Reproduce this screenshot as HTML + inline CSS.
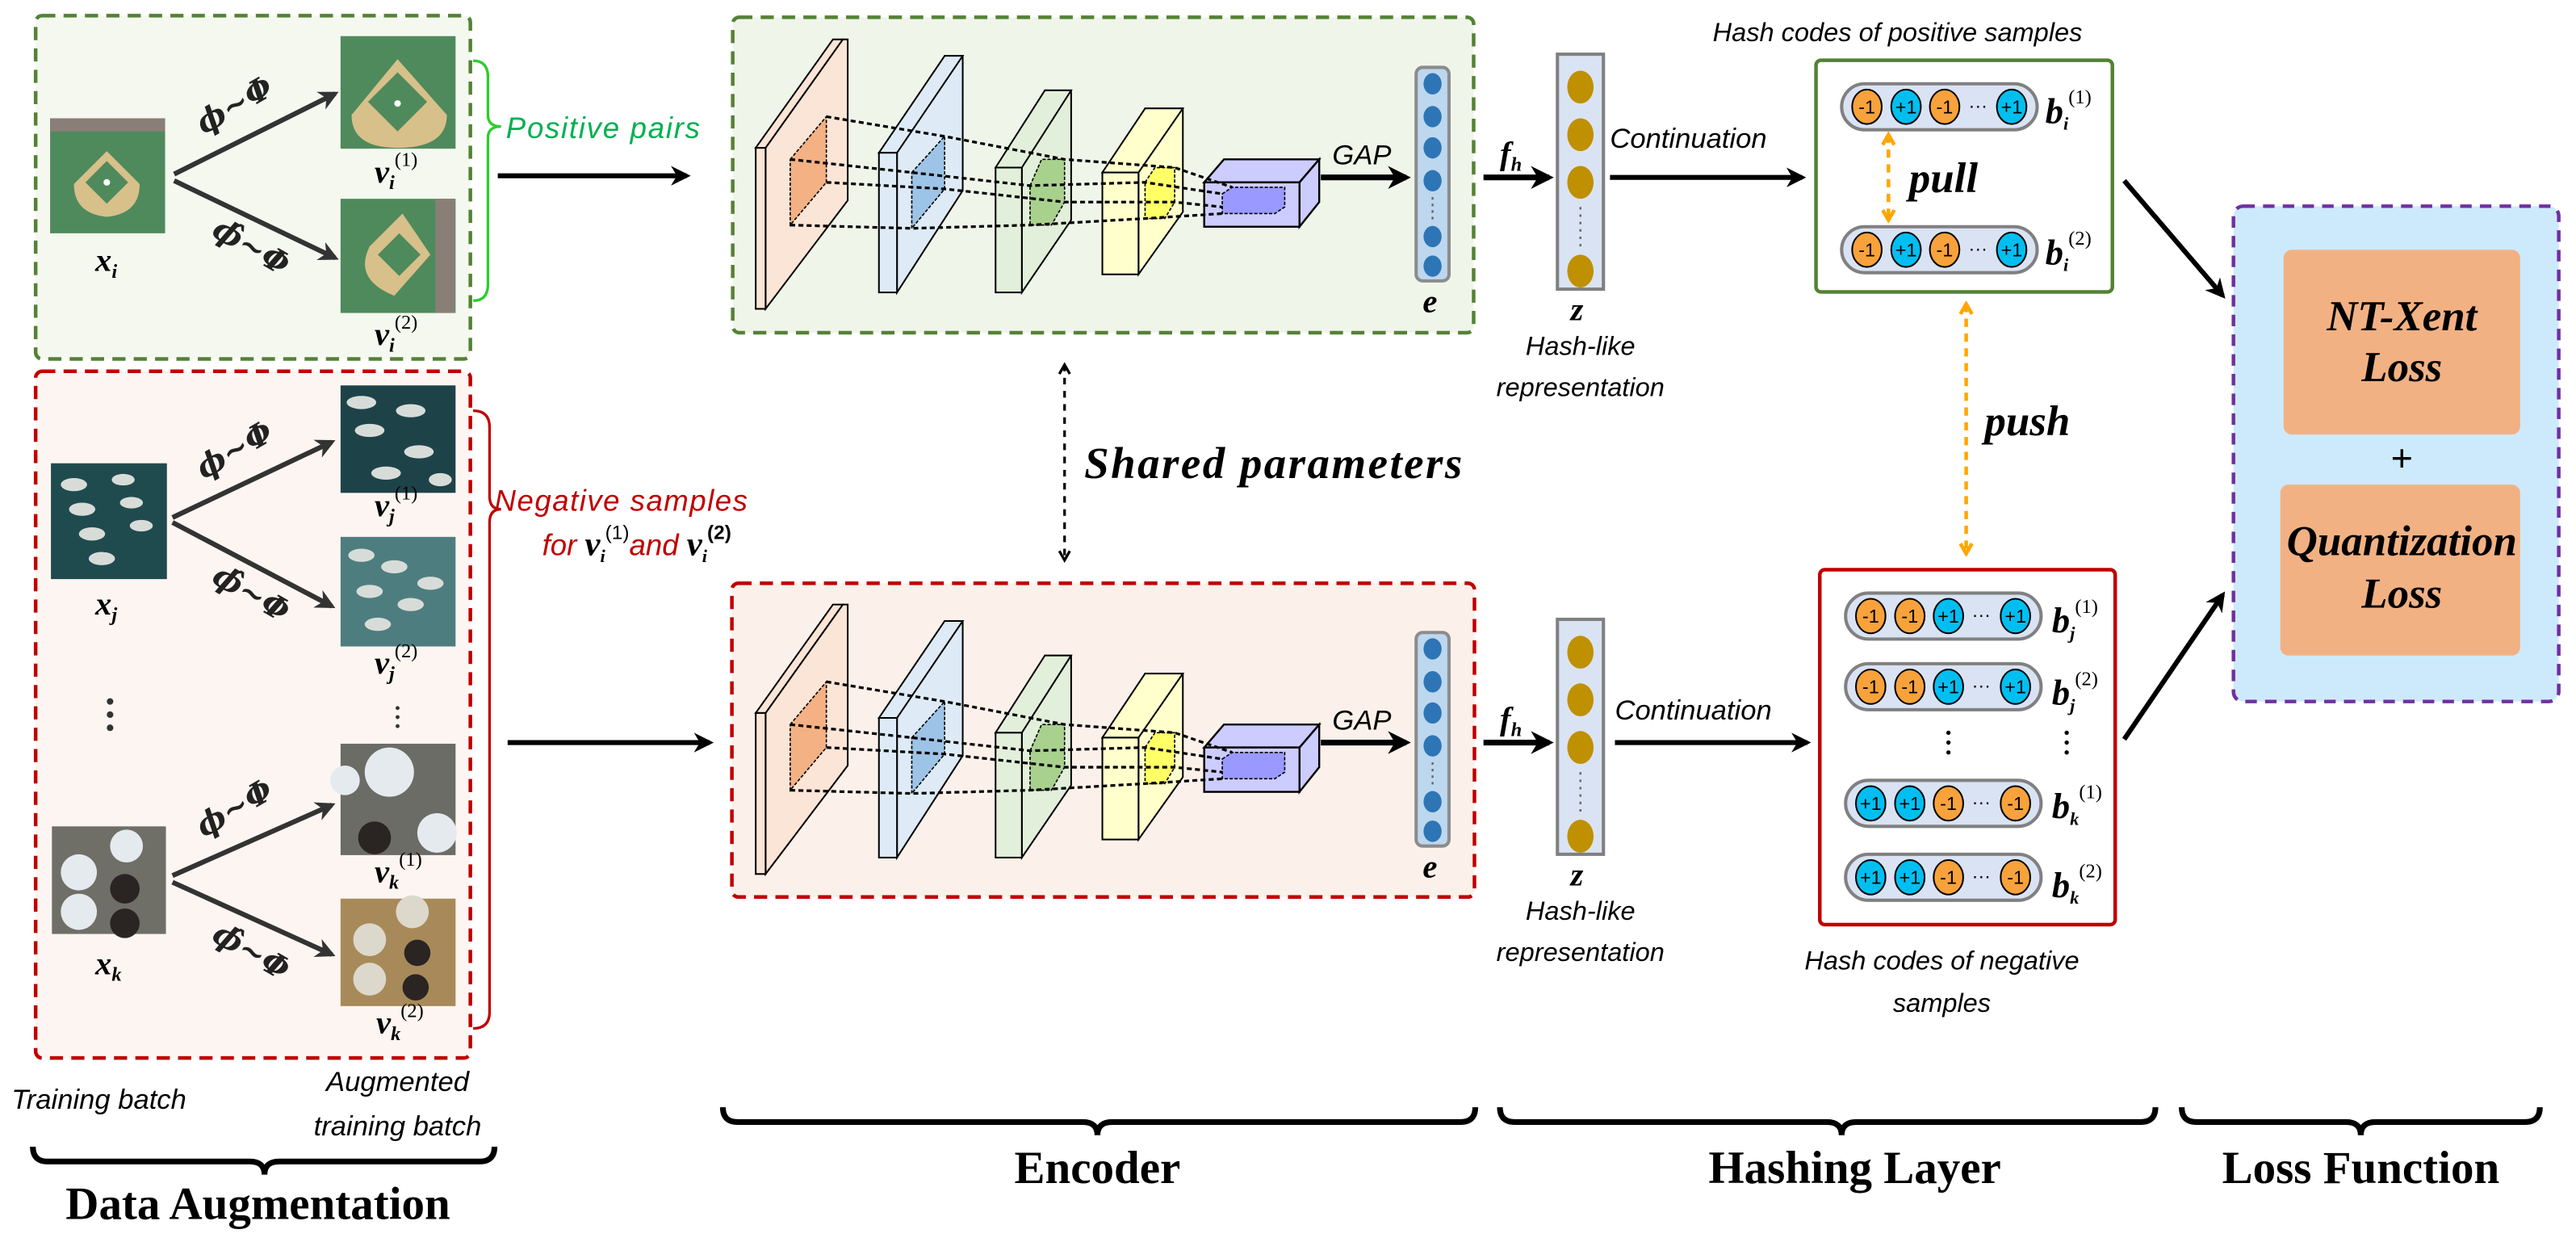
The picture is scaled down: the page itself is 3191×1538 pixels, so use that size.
<!DOCTYPE html>
<html><head><meta charset="utf-8"><style>
html,body{margin:0;padding:0;background:#fff}
svg{display:block}
.it{font-family:"Liberation Sans",sans-serif;font-style:italic}
.m{font-family:"Liberation Serif",serif;font-style:italic;font-weight:bold}
.ph{font-family:"DejaVu Serif",serif;font-style:italic;font-weight:bold}
.b{font-family:"Liberation Serif",serif;font-weight:bold}
</style></head><body>
<svg width="3191" height="1538" viewBox="0 0 1568 756" preserveAspectRatio="none" xmlns="http://www.w3.org/2000/svg">
<defs>
<marker id="ah" viewBox="0 0 10 10" refX="8" refY="5" markerWidth="4" markerHeight="4" orient="auto-start-reverse"><path d="M0,0 L10,5 L0,10 L3,5 z" fill="#000"/></marker>
<marker id="ahg" viewBox="0 0 10 10" refX="8" refY="5" markerWidth="4" markerHeight="4" orient="auto-start-reverse"><path d="M0,0 L10,5 L0,10 L3,5 z" fill="#333"/></marker>
<marker id="ao" viewBox="0 0 10 10" refX="8" refY="5" markerWidth="4" markerHeight="4" orient="auto-start-reverse"><path d="M1,1 L8,5 L1,9" fill="none" stroke="#ffa500" stroke-width="2.5"/></marker>
<marker id="ad" viewBox="0 0 10 10" refX="8" refY="5" markerWidth="5" markerHeight="5" orient="auto-start-reverse"><path d="M1,1 L8,5 L1,9" fill="none" stroke="#000" stroke-width="2"/></marker>
<g id="enc">
 <polygon points="466,90 513,24 516,24 516,122 466,188" fill="#fbe5d6" stroke="#000" stroke-width="1"/>
 <polygon points="460,90 507,24 513,24 466,90" fill="#fbe5d6" stroke="#000" stroke-width="1"/>
 <rect x="460" y="90" width="6" height="98" fill="#fbe5d6" stroke="#000" stroke-width="1"/>
 <polygon points="481,97 503,71 503,111 481,137" fill="#f4b183" stroke="#000" stroke-width="0.8" stroke-dasharray="2,1"/>
 <polygon points="546,93 575,34 586,34 586,116 546,178" fill="#deebf7" stroke="#000" stroke-width="1"/>
 <polygon points="535,93 575,34 586,34 546,93" fill="#deebf7" stroke="#000" stroke-width="1"/>
 <rect x="535" y="93" width="11" height="85" fill="#deebf7" stroke="#000" stroke-width="1"/>
 <polygon points="555,105 575,83 575,115 555,139" fill="#9dc3e6" stroke="#000" stroke-width="0.8" stroke-dasharray="2,1"/>
 <polygon points="622,102 636,55 652,55 652,134 622,178" fill="#e2efda" stroke="#000" stroke-width="1"/>
 <polygon points="606,102 636,55 652,55 622,102" fill="#e2efda" stroke="#000" stroke-width="1"/>
 <rect x="606" y="102" width="16" height="76" fill="#e2efda" stroke="#000" stroke-width="1"/>
 <polygon points="627,113 634,97 648,97 648,123 640,137 627,137" fill="#a9d18e" stroke="#000" stroke-width="0.8" stroke-dasharray="2,1"/>
 <polygon points="693,105 697,66 720,66 720,129 693,167" fill="#ffffcc" stroke="#000" stroke-width="1"/>
 <polygon points="671,105 697,66 720,66 693,105" fill="#ffffcc" stroke="#000" stroke-width="1"/>
 <rect x="671" y="105" width="22" height="62" fill="#ffffcc" stroke="#000" stroke-width="1"/>
 <polygon points="697,111 703,102 715,102 715,123 709,133 697,133" fill="#ffff66" stroke="#000" stroke-width="0.8" stroke-dasharray="2,1"/>
 <polygon points="733,111 745,97 803,97 791,111" fill="#ccccff" stroke="#000" stroke-width="1.2"/>
 <polygon points="791,111 803,97 803,123 791,138" fill="#ccccff" stroke="#000" stroke-width="1.2"/>
 <rect x="733" y="111" width="58" height="27" fill="#ccccff" stroke="#000" stroke-width="1.2"/>
 <polygon points="744,118 750,114 782,114 782,126 776,130 744,130" fill="#9999ff" stroke="#000" stroke-width="0.8" stroke-dasharray="2,1"/>
 <g stroke="#000" stroke-width="1.6" stroke-dasharray="3,2" fill="none">
  <polyline points="503,71 575,83 648,97 715,102 750,114"/>
  <polyline points="481,97 555,105 627,113 697,111 744,118"/>
  <polyline points="503,111 575,115 648,123 715,123 744,126"/>
  <polyline points="481,137 555,139 627,137 697,133 744,130"/>
 </g>
 <rect x="862" y="41" width="20" height="130" rx="4" fill="#bdd7ee" stroke="#8c8c8c" stroke-width="2"/>
 <g fill="#2e75b6">
  <ellipse cx="872" cy="51" rx="5.5" ry="6.5"/><ellipse cx="872" cy="71" rx="5.5" ry="6.5"/>
  <ellipse cx="872" cy="90" rx="5.5" ry="6.5"/><ellipse cx="872" cy="110" rx="5.5" ry="6.5"/>
  <ellipse cx="872" cy="144" rx="5.5" ry="6.5"/><ellipse cx="872" cy="162" rx="5.5" ry="6.5"/>
 </g>
 <line x1="872" y1="120" x2="872" y2="134" stroke="#666" stroke-width="1.2" stroke-dasharray="1.5,2.5"/>
 <rect x="948" y="33" width="28" height="143" fill="#dae3f3" stroke="#808080" stroke-width="2"/>
 <g fill="#bf9000">
  <ellipse cx="962" cy="53" rx="8" ry="10"/><ellipse cx="962" cy="82" rx="8" ry="10"/>
  <ellipse cx="962" cy="111" rx="8" ry="10"/><ellipse cx="962" cy="165" rx="8" ry="10"/>
 </g>
 <line x1="962" y1="126" x2="962" y2="150" stroke="#666" stroke-width="1.2" stroke-dasharray="1.5,3"/>
 <line x1="804" y1="108" x2="856" y2="108" stroke="#000" stroke-width="3.5" marker-end="url(#ah)"/>
 <line x1="903" y1="108" x2="943" y2="108" stroke="#000" stroke-width="3.5" marker-end="url(#ah)"/>
</g>
</defs>

<rect x="21.7" y="9.5" width="264.6" height="209" rx="4" fill="#f4f8ef" stroke="#548235" stroke-width="2.2" stroke-dasharray="8,5"/>
<rect x="21.7" y="226" width="264.6" height="418" rx="4" fill="#fdf5f1" stroke="#c00000" stroke-width="2.2" stroke-dasharray="8,5"/>

<g>
 <rect x="30.5" y="72" width="70" height="70" fill="#4f8a5c"/>
 <rect x="30.5" y="72" width="70" height="8" fill="#8a7f78"/>
 <path d="M45,112 L65,92 L85,112 Q85,130 65,132 Q45,130 45,112z" fill="#d7c08a"/>
 <polygon points="65,98 78,111 65,124 52,111" fill="#4f8a5c"/>
 <circle cx="65" cy="111" r="2" fill="#fff"/>
 <rect x="207.3" y="22" width="70" height="68.5" fill="#4f8a5c"/>
 <path d="M214,70 L242,36 L272,70 Q272,90 242,90 Q214,90 214,70z" fill="#d7c08a"/>
 <polygon points="242,44 260,62 242,80 224,62" fill="#4f8a5c"/>
 <circle cx="242" cy="63" r="2" fill="#fff"/>
 <rect x="207.3" y="121" width="70" height="69.5" fill="#4f8a5c"/>
 <rect x="265" y="121" width="12" height="69.5" fill="#8a7f78"/>
 <path d="M225,150 L245,130 L262,155 L240,180 Q215,170 225,150z" fill="#d7c08a"/>
 <polygon points="243,142 256,155 243,168 230,155" fill="#4f8a5c"/>
</g>
<g>
 <rect x="31" y="282" width="70.6" height="70.5" fill="#1f4b4f"/>
 <g fill="#d8dcd8"><ellipse cx="45" cy="295" rx="8" ry="4"/><ellipse cx="50" cy="310" rx="8" ry="4"/><ellipse cx="56" cy="325" rx="8" ry="4"/><ellipse cx="62" cy="340" rx="8" ry="4"/><ellipse cx="75" cy="292" rx="7" ry="3.5"/><ellipse cx="80" cy="306" rx="7" ry="3.5"/><ellipse cx="86" cy="320" rx="7" ry="3.5"/></g>
 <rect x="207.3" y="234.6" width="70" height="65.4" fill="#1d4349"/>
 <g fill="#d8dcd8"><ellipse cx="220" cy="245" rx="9" ry="4"/><ellipse cx="225" cy="262" rx="9" ry="4"/><ellipse cx="250" cy="250" rx="9" ry="4"/><ellipse cx="255" cy="275" rx="9" ry="4"/><ellipse cx="235" cy="288" rx="9" ry="4"/><ellipse cx="268" cy="292" rx="7" ry="4"/></g>
 <rect x="207.3" y="326.8" width="70" height="66.7" fill="#4e7d80"/>
 <g fill="#d8dcd8"><ellipse cx="220" cy="338" rx="8" ry="4"/><ellipse cx="240" cy="345" rx="8" ry="4"/><ellipse cx="225" cy="360" rx="8" ry="4"/><ellipse cx="250" cy="368" rx="8" ry="4"/><ellipse cx="230" cy="380" rx="8" ry="4"/><ellipse cx="262" cy="355" rx="8" ry="4"/></g>
</g>
<g>
 <rect x="31.6" y="503" width="69.4" height="65.5" fill="#6f6f68"/>
 <g fill="#e4eaee"><circle cx="77" cy="515" r="10"/><circle cx="48" cy="531" r="11"/><circle cx="48" cy="555" r="11"/></g>
 <g fill="#2a2522"><circle cx="76" cy="541" r="9"/><circle cx="76" cy="562" r="9"/></g>
 <rect x="207.3" y="452.7" width="70" height="67.8" fill="#6c6c66"/>
 <g fill="#e4eaee"><circle cx="237" cy="470" r="15"/><circle cx="266" cy="507" r="12"/><circle cx="210" cy="475" r="9"/></g>
 <circle cx="228" cy="510" r="10" fill="#2a2522"/>
 <rect x="207.3" y="547" width="70" height="65.4" fill="#a88a5a"/>
 <g fill="#ddd8cc"><circle cx="251" cy="555" r="10"/><circle cx="225" cy="572" r="10"/><circle cx="225" cy="596" r="10"/></g>
 <g fill="#2a2522"><circle cx="254" cy="580" r="8"/><circle cx="253" cy="601" r="8"/></g>
</g>

<g stroke="#333" stroke-width="3" marker-end="url(#ahg)">
 <line x1="106" y1="106" x2="204" y2="57"/>
 <line x1="106" y1="110" x2="204" y2="157"/>
 <line x1="105" y1="315" x2="202" y2="269"/>
 <line x1="105" y1="318" x2="202" y2="369"/>
 <line x1="105" y1="533" x2="202" y2="490"/>
 <line x1="105" y1="537" x2="202" y2="581"/>
</g>
<g class="ph" font-size="19" fill="#222">
 <text transform="translate(124,82) rotate(-30)">ϕ~Φ</text>
 <text transform="translate(128,143) rotate(30)">ϕ̂~Φ</text>
 <text transform="translate(124,292) rotate(-30)">ϕ~Φ</text>
 <text transform="translate(128,354) rotate(30)">ϕ̂~Φ</text>
 <text transform="translate(124,510) rotate(-30)">ϕ~Φ</text>
 <text transform="translate(128,572) rotate(30)">ϕ̂~Φ</text>
</g>
<g class="m" font-size="20" fill="#000">
 <text x="58" y="165">x<tspan font-size="12" dy="4">i</tspan></text>
 <text x="58" y="374">x<tspan font-size="12" dy="4">j</tspan></text>
 <text x="58" y="593">x<tspan font-size="12" dy="4">k</tspan></text>
 <text x="228" y="111">v<tspan font-size="12" dy="4">i</tspan><tspan font-size="12" dy="-14" font-weight="normal" font-style="normal">(1)</tspan></text>
 <text x="228" y="210">v<tspan font-size="12" dy="4">i</tspan><tspan font-size="12" dy="-14" font-weight="normal" font-style="normal">(2)</tspan></text>
 <text x="228" y="314">v<tspan font-size="12" dy="4">j</tspan><tspan font-size="12" dy="-14" font-weight="normal" font-style="normal">(1)</tspan></text>
 <text x="228" y="410">v<tspan font-size="12" dy="4">j</tspan><tspan font-size="12" dy="-14" font-weight="normal" font-style="normal">(2)</tspan></text>
 <text x="228" y="537">v<tspan font-size="12" dy="4">k</tspan><tspan font-size="12" dy="-14" font-weight="normal" font-style="normal">(1)</tspan></text>
 <text x="229" y="629">v<tspan font-size="12" dy="4">k</tspan><tspan font-size="12" dy="-14" font-weight="normal" font-style="normal">(2)</tspan></text>
</g>
<g fill="#333"><circle cx="67" cy="427" r="2"/><circle cx="67" cy="435" r="2"/><circle cx="67" cy="443" r="2"/></g>
<g fill="#333"><circle cx="242" cy="431" r="1.2"/><circle cx="242" cy="436.5" r="1.2"/><circle cx="242" cy="442" r="1.2"/></g>

<path d="M288,37 Q297,37 297,47 L297,70 Q297,77 305,77 Q297,77 297,84 L297,173 Q297,183 288,183" fill="none" stroke="#2ecc2e" stroke-width="1.6"/>
<text class="it" x="308" y="84" font-size="18" fill="#00b050" textLength="118">Positive pairs</text>
<path d="M288,250 Q298,250 298,260 L298,302 Q298,310 305,310 Q298,310 298,318 L298,616 Q298,626 288,626" fill="none" stroke="#c00000" stroke-width="1.6"/>
<text class="it" x="301" y="311" font-size="18" fill="#c00000" textLength="154">Negative samples</text>
<text class="it" x="330" y="338" font-size="18" fill="#c00000">for <tspan class="m" fill="#000" font-size="21">v</tspan><tspan class="m" fill="#000" font-size="11" dy="4">i</tspan><tspan font-style="normal" fill="#000" font-size="12" dy="-14">(1)</tspan><tspan dy="10">and </tspan><tspan class="m" fill="#000" font-size="21">v</tspan><tspan class="m" fill="#000" font-size="11" dy="4">i</tspan><tspan font-style="normal" font-weight="bold" fill="#000" font-size="12" dy="-14">(2)</tspan></text>

<line x1="303" y1="107" x2="418" y2="107" stroke="#000" stroke-width="3" marker-end="url(#ah)"/>
<line x1="309" y1="452" x2="432" y2="452" stroke="#000" stroke-width="3" marker-end="url(#ah)"/>

<rect x="446" y="10.5" width="451" height="192" rx="4" fill="#f0f5ea" stroke="#548235" stroke-width="2.2" stroke-dasharray="8,5"/>
<rect x="445.5" y="355" width="452" height="191" rx="4" fill="#fcf1ea" stroke="#c00000" stroke-width="2.2" stroke-dasharray="8,5"/>
<use href="#enc"/>
<use href="#enc" transform="translate(0,344)"/>
<g class="it" font-size="17">
 <text x="811" y="100">GAP</text><text x="811" y="444">GAP</text>
 <text x="980" y="90">Continuation</text><text x="983" y="438">Continuation</text>
</g>
<g class="m" font-size="20">
 <text x="913" y="100">f<tspan font-size="12" dy="4">h</tspan></text>
 <text x="913" y="444">f<tspan font-size="12" dy="4">h</tspan></text>
 <text x="866" y="190">e</text><text x="866" y="534">e</text>
 <text x="956" y="195">z</text><text x="956" y="539">z</text>
</g>
<g class="it" font-size="16" text-anchor="middle">
 <text x="962" y="216">Hash-like</text><text x="962" y="241">representation</text>
 <text x="962" y="560">Hash-like</text><text x="962" y="585">representation</text>
</g>
<line x1="980" y1="108" x2="1097" y2="108" stroke="#000" stroke-width="3" marker-end="url(#ah)"/>
<line x1="983" y1="452" x2="1100" y2="452" stroke="#000" stroke-width="3" marker-end="url(#ah)"/>

<line x1="648" y1="222" x2="648" y2="341" stroke="#000" stroke-width="1.6" stroke-dasharray="4,4" marker-start="url(#ad)" marker-end="url(#ad)"/>
<text class="m" x="660" y="291" font-size="27" textLength="230">Shared parameters</text>

<text class="it" x="1155" y="25" font-size="16" text-anchor="middle">Hash codes of positive samples</text>
<rect x="1105.4" y="36.7" width="180.4" height="141" rx="3" fill="#fff" stroke="#548235" stroke-width="2.2"/>
<rect x="1107.7" y="346.8" width="179.8" height="216" rx="3" fill="#fff" stroke="#c00000" stroke-width="2.2"/>
<g font-family="Liberation Sans,sans-serif" font-size="11.5" text-anchor="middle">
 <rect x="1121" y="51" width="119" height="28" rx="14" fill="#dae3f3" stroke="#808080" stroke-width="2"/>
 <ellipse cx="1136.4" cy="65" rx="9" ry="10.5" fill="#f7a23b" stroke="#000"/><text x="1136.4" y="69">-1</text>
 <ellipse cx="1160.2" cy="65" rx="9" ry="10.5" fill="#00bff0" stroke="#000"/><text x="1160.2" y="69">+1</text>
 <ellipse cx="1183.7" cy="65" rx="9" ry="10.5" fill="#f7a23b" stroke="#000"/><text x="1183.7" y="69">-1</text>
 <text x="1204" y="68">···</text>
 <ellipse cx="1224.5" cy="65" rx="9" ry="10.5" fill="#00bff0" stroke="#000"/><text x="1224.5" y="69">+1</text>
 <rect x="1121" y="138" width="119" height="28" rx="14" fill="#dae3f3" stroke="#808080" stroke-width="2"/>
 <ellipse cx="1136.4" cy="152" rx="9" ry="10.5" fill="#f7a23b" stroke="#000"/><text x="1136.4" y="156">-1</text>
 <ellipse cx="1160.2" cy="152" rx="9" ry="10.5" fill="#00bff0" stroke="#000"/><text x="1160.2" y="156">+1</text>
 <ellipse cx="1183.7" cy="152" rx="9" ry="10.5" fill="#f7a23b" stroke="#000"/><text x="1183.7" y="156">-1</text>
 <text x="1204" y="155">···</text>
 <ellipse cx="1224.5" cy="152" rx="9" ry="10.5" fill="#00bff0" stroke="#000"/><text x="1224.5" y="156">+1</text>
 <rect x="1123.4" y="361" width="119" height="28" rx="14" fill="#dae3f3" stroke="#808080" stroke-width="2"/>
 <ellipse cx="1138.7" cy="375" rx="9" ry="10.5" fill="#f7a23b" stroke="#000"/><text x="1138.7" y="379">-1</text>
 <ellipse cx="1162.5" cy="375" rx="9" ry="10.5" fill="#f7a23b" stroke="#000"/><text x="1162.5" y="379">-1</text>
 <ellipse cx="1186" cy="375" rx="9" ry="10.5" fill="#00bff0" stroke="#000"/><text x="1186" y="379">+1</text>
 <text x="1206" y="378">···</text>
 <ellipse cx="1226.8" cy="375" rx="9" ry="10.5" fill="#00bff0" stroke="#000"/><text x="1226.8" y="379">+1</text>
 <rect x="1123.4" y="404" width="119" height="28" rx="14" fill="#dae3f3" stroke="#808080" stroke-width="2"/>
 <ellipse cx="1138.7" cy="418" rx="9" ry="10.5" fill="#f7a23b" stroke="#000"/><text x="1138.7" y="422">-1</text>
 <ellipse cx="1162.5" cy="418" rx="9" ry="10.5" fill="#f7a23b" stroke="#000"/><text x="1162.5" y="422">-1</text>
 <ellipse cx="1186" cy="418" rx="9" ry="10.5" fill="#00bff0" stroke="#000"/><text x="1186" y="422">+1</text>
 <text x="1206" y="421">···</text>
 <ellipse cx="1226.8" cy="418" rx="9" ry="10.5" fill="#00bff0" stroke="#000"/><text x="1226.8" y="422">+1</text>
 <rect x="1123.4" y="475" width="119" height="28" rx="14" fill="#dae3f3" stroke="#808080" stroke-width="2"/>
 <ellipse cx="1138.7" cy="489" rx="9" ry="10.5" fill="#00bff0" stroke="#000"/><text x="1138.7" y="493">+1</text>
 <ellipse cx="1162.5" cy="489" rx="9" ry="10.5" fill="#00bff0" stroke="#000"/><text x="1162.5" y="493">+1</text>
 <ellipse cx="1186" cy="489" rx="9" ry="10.5" fill="#f7a23b" stroke="#000"/><text x="1186" y="493">-1</text>
 <text x="1206" y="492">···</text>
 <ellipse cx="1226.8" cy="489" rx="9" ry="10.5" fill="#f7a23b" stroke="#000"/><text x="1226.8" y="493">-1</text>
 <rect x="1123.4" y="520" width="119" height="28" rx="14" fill="#dae3f3" stroke="#808080" stroke-width="2"/>
 <ellipse cx="1138.7" cy="534" rx="9" ry="10.5" fill="#00bff0" stroke="#000"/><text x="1138.7" y="538">+1</text>
 <ellipse cx="1162.5" cy="534" rx="9" ry="10.5" fill="#00bff0" stroke="#000"/><text x="1162.5" y="538">+1</text>
 <ellipse cx="1186" cy="534" rx="9" ry="10.5" fill="#f7a23b" stroke="#000"/><text x="1186" y="538">-1</text>
 <text x="1206" y="537">···</text>
 <ellipse cx="1226.8" cy="534" rx="9" ry="10.5" fill="#f7a23b" stroke="#000"/><text x="1226.8" y="538">-1</text>
</g>
<g fill="#000"><circle cx="1186" cy="446" r="1.3"/><circle cx="1186" cy="452" r="1.3"/><circle cx="1186" cy="458" r="1.3"/>
<circle cx="1258" cy="446" r="1.3"/><circle cx="1258" cy="452" r="1.3"/><circle cx="1258" cy="458" r="1.3"/></g>
<g class="m" font-size="22">
 <text x="1245" y="75">b<tspan font-size="11" dy="4">i</tspan><tspan font-size="12" font-weight="normal" font-style="normal" dy="-16">(1)</tspan></text>
 <text x="1245" y="161">b<tspan font-size="11" dy="4">i</tspan><tspan font-size="12" font-weight="normal" font-style="normal" dy="-16">(2)</tspan></text>
 <text x="1249" y="385">b<tspan font-size="11" dy="4">j</tspan><tspan font-size="12" font-weight="normal" font-style="normal" dy="-16">(1)</tspan></text>
 <text x="1249" y="429">b<tspan font-size="11" dy="4">j</tspan><tspan font-size="12" font-weight="normal" font-style="normal" dy="-16">(2)</tspan></text>
 <text x="1249" y="498">b<tspan font-size="11" dy="4">k</tspan><tspan font-size="12" font-weight="normal" font-style="normal" dy="-16">(1)</tspan></text>
 <text x="1249" y="546">b<tspan font-size="11" dy="4">k</tspan><tspan font-size="12" font-weight="normal" font-style="normal" dy="-16">(2)</tspan></text>
</g>
<line x1="1149.5" y1="82" x2="1149.5" y2="134" stroke="#ffa500" stroke-width="2.2" stroke-dasharray="5,4" marker-start="url(#ao)" marker-end="url(#ao)"/>
<text class="m" x="1162" y="117" font-size="26">pull</text>
<line x1="1196.8" y1="185" x2="1196.8" y2="337" stroke="#ffa500" stroke-width="2.2" stroke-dasharray="5,4" marker-start="url(#ao)" marker-end="url(#ao)"/>
<text class="m" x="1208" y="265" font-size="26">push</text>
<text class="it" x="1182" y="590" font-size="16" text-anchor="middle">Hash codes of negative</text>
<text class="it" x="1182" y="616" font-size="16" text-anchor="middle">samples</text>

<line x1="1293" y1="110" x2="1353" y2="180" stroke="#000" stroke-width="3" marker-end="url(#ah)"/>
<line x1="1293" y1="450" x2="1353" y2="362" stroke="#000" stroke-width="3" marker-end="url(#ah)"/>

<rect x="1359.5" y="125.5" width="198" height="301.5" rx="6" fill="#cdeafd" stroke="#7030a0" stroke-width="2.2" stroke-dasharray="7,5"/>
<rect x="1390" y="152" width="144" height="112.5" rx="5" fill="#f2b183"/>
<rect x="1388" y="295" width="146" height="104" rx="5" fill="#f2b183"/>
<g class="m" font-size="26" text-anchor="middle">
 <text x="1462" y="201">NT-Xent</text><text x="1462" y="232">Loss</text>
 <text x="1462" y="338">Quantization</text><text x="1462" y="370">Loss</text>
</g>
<text class="b" x="1462" y="287" font-size="24" text-anchor="middle">+</text>

<text class="it" x="7" y="675" font-size="17">Training batch</text>
<text class="it" x="242" y="664" font-size="17" text-anchor="middle">Augmented</text>
<text class="it" x="242" y="691" font-size="17" text-anchor="middle">training batch</text>

<g fill="none" stroke="#000" stroke-width="3.5">
 <path d="M20,698 Q20,707 29,707 L152,707 Q161,707 161,715 Q161,707 170,707 L292,707 Q301,707 301,698"/>
 <path d="M440,674 Q440,683 449,683 L659,683 Q668,683 668,691 Q668,683 677,683 L889,683 Q898,683 898,674"/>
 <path d="M913,674 Q913,683 922,683 L1112,683 Q1121,683 1121,691 Q1121,683 1130,683 L1303,683 Q1312,683 1312,674"/>
 <path d="M1328,674 Q1328,683 1337,683 L1428,683 Q1437,683 1437,691 Q1437,683 1446,683 L1537,683 Q1546,683 1546,674"/>
</g>
<g class="b" font-size="28" text-anchor="middle">
 <text x="157" y="742">Data Augmentation</text>
 <text x="668" y="720">Encoder</text>
 <text x="1129" y="720">Hashing Layer</text>
 <text x="1437" y="720">Loss Function</text>
</g>
</svg>
</body></html>
